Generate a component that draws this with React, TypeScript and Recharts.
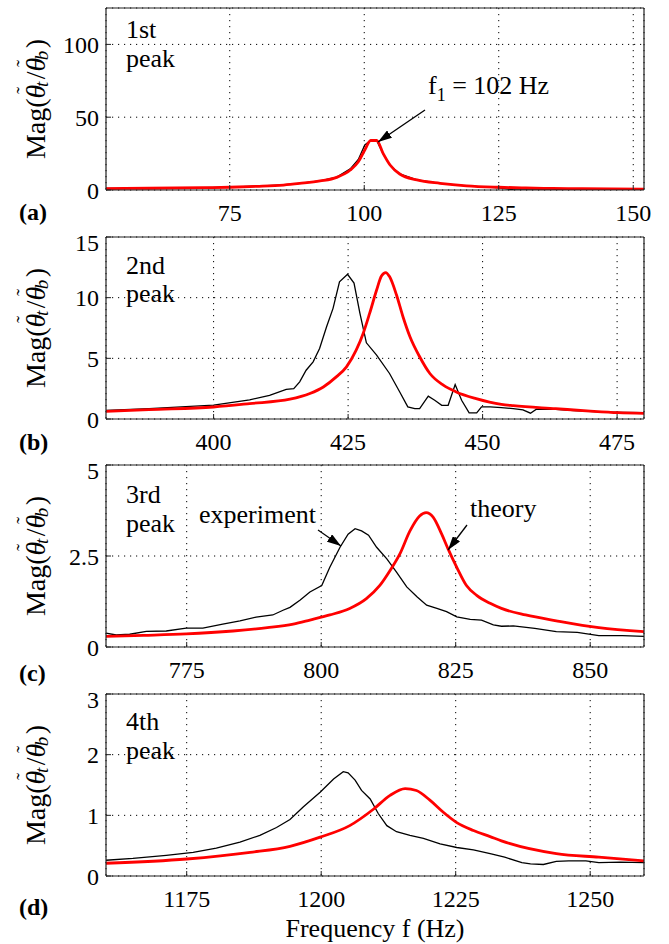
import { LineChart, Line, XAxis, YAxis, CartesianGrid } from 'recharts'

// panel (a) ~ 1st peak
const aExpFreq = [52, 60, 70, 75, 80, 85, 88, 91.8, 94.9, 97.4, 98.9, 100.1, 101.2, 102.3, 103.5, 104.8, 106.6, 109.8, 114.1, 119, 125, 127.7, 130, 134.9, 137, 140, 146, 152]
const aExpMag = [1.1, 1.3, 1.7, 2.0, 2.6, 3.5, 4.6, 6.3, 8.9, 14.5, 21, 31, 34, 34, 25, 17, 11, 6.9, 4.6, 2.8, 1.5, 0.2, 0, 0, 0.5, 0.6, 0.6, 0.5]
const aThyFreq = [52, 60, 70, 75, 80, 85, 88, 91.8, 94.9, 97.4, 98.9, 100.1, 101.2, 102.3, 103.5, 104.8, 106.6, 109.8, 114.1, 119, 125, 130, 135, 140, 146, 152]
const aThyMag = [1.0, 1.2, 1.6, 1.9, 2.5, 3.4, 4.5, 6.2, 8.7, 13.7, 19.4, 27.5, 34, 34, 25.2, 17.2, 11, 6.9, 4.6, 2.9, 1.9, 1.4, 1.1, 0.9, 0.7, 0.6]

// panel (b) ~ 2nd peak
const bExpFreq = [380, 388, 400, 406.7, 410.4, 413.5, 414.9, 416.0, 417.2, 418.5, 419.7, 421.0, 422.2, 423.4, 424.9, 426.1, 427.2, 428.4, 430.3, 432.7, 434.6, 436.1, 437.4, 438.3, 439.9, 441.1, 442.4, 443.6, 444.9, 446.1, 447.5, 448.9, 449.8, 451.4, 453.5, 455.7, 457.5, 458.9, 460, 463.6, 467, 471.6, 476, 480]
const bExpMag = [0.7, 0.86, 1.15, 1.58, 1.95, 2.45, 2.5, 3.06, 4.02, 4.71, 5.81, 7.6, 9.12, 11.3, 11.93, 11.2, 8.7, 6.28, 5.26, 3.75, 2.23, 1.0, 0.86, 0.86, 1.88, 1.54, 1.13, 1.13, 2.84, 1.54, 0.5, 0.5, 1.0, 1.0, 0.94, 0.85, 0.75, 0.48, 0.81, 0.8, 0.7, 0.58, 0.55, 0.52]
const bThyFreq = [380, 388, 400, 406.7, 414.2, 417.9, 420.4, 422.8, 424.7, 426.5, 427.8, 429.0, 430.3, 431.2, 432.0, 432.7, 434.0, 435.2, 436.5, 438.3, 440.2, 442.7, 445.1, 448.8, 453.5, 455.7, 463.6, 470, 475.2, 480]
const bThyMag = [0.63, 0.78, 0.99, 1.27, 1.63, 2.1, 2.64, 3.47, 4.3, 5.67, 7.05, 8.7, 10.63, 11.79, 12.07, 11.74, 10.22, 8.43, 6.78, 5.13, 3.75, 2.79, 2.23, 1.68, 1.21, 1.1, 0.85, 0.65, 0.52, 0.47]

// panel (c) ~ 3rd peak
const cExpFreq = [760, 761.9, 764.4, 767.5, 771.2, 774.9, 778, 781.7, 784.9, 787.9, 791, 792.9, 794.2, 796.1, 797.9, 800.1, 801.6, 803.5, 805, 806.3, 807.5, 808.8, 810.3, 812.2, 814, 815.9, 817.8, 819.6, 821.5, 823.3, 825.2, 827.7, 829.8, 832, 833.5, 835.7, 839.7, 843.7, 847.6, 851.6, 856, 860]
const cExpMag = [0.38, 0.33, 0.35, 0.43, 0.44, 0.52, 0.52, 0.63, 0.72, 0.82, 0.88, 1.01, 1.09, 1.29, 1.51, 1.69, 2.19, 2.74, 3.1, 3.25, 3.19, 3.07, 2.74, 2.42, 2.06, 1.65, 1.38, 1.15, 1.06, 0.97, 0.83, 0.76, 0.74, 0.61, 0.57, 0.58, 0.51, 0.42, 0.4, 0.31, 0.31, 0.29]
const cThyFreq = [760, 767, 774.9, 783.6, 790, 794.8, 797.9, 801.6, 805.3, 808.4, 810.9, 812.8, 814.6, 816.5, 818.3, 819.5, 820.8, 822.4, 823.6, 825.2, 827.0, 828.9, 831.4, 833.5, 838, 843.7, 851.6, 860]
const cThyMag = [0.29, 0.32, 0.36, 0.44, 0.53, 0.63, 0.74, 0.88, 1.06, 1.33, 1.69, 2.1, 2.55, 3.19, 3.6, 3.69, 3.57, 3.1, 2.69, 2.19, 1.69, 1.42, 1.2, 1.06, 0.88, 0.72, 0.53, 0.42]

// panel (d) ~ 4th peak
const dExpFreq = [1160, 1165, 1171.2, 1176.2, 1180.5, 1184.9, 1188.6, 1191.7, 1194.2, 1196.7, 1199.8, 1202.3, 1204.1, 1205, 1206.3, 1207.5, 1209.1, 1210.6, 1212.2, 1214, 1216.5, 1219, 1222.1, 1225.2, 1228.3, 1231.4, 1234.1, 1237.3, 1238.9, 1241.3, 1243.7, 1246, 1249.2, 1251.6, 1255.6, 1260]
const dExpMag = [0.26, 0.29, 0.34, 0.39, 0.46, 0.56, 0.67, 0.8, 0.93, 1.14, 1.38, 1.6, 1.72, 1.7, 1.58, 1.41, 1.27, 1.03, 0.83, 0.73, 0.67, 0.62, 0.53, 0.47, 0.43, 0.37, 0.31, 0.22, 0.2, 0.19, 0.24, 0.25, 0.25, 0.22, 0.23, 0.22]
const dThyFreq = [1160, 1175, 1186.8, 1194.2, 1199.8, 1205.3, 1209.7, 1212.8, 1215.6, 1217.7, 1220.2, 1222.7, 1225.2, 1228.3, 1231.4, 1233.5, 1243.7, 1251.6, 1260]
const dThyMag = [0.21, 0.28, 0.39, 0.49, 0.64, 0.83, 1.1, 1.33, 1.44, 1.41, 1.25, 1.05, 0.88, 0.75, 0.65, 0.58, 0.37, 0.31, 0.25]

// axis ticks
const aXTicks = [75, 100, 125, 150]
const aYTicks = [0, 50, 100]
const bXTicks = [400, 425, 450, 475]
const bYTicks = [0, 5, 10, 15]
const cXTicks = [775, 800, 825, 850]
const cYTicks = [0, 2.5, 5]
const dXTicks = [1175, 1200, 1225, 1250]
const dYTicks = [0, 1, 2, 3]

const zip = (f: number[], m: number[]) => f.map((v, i) => ({ f: v, m: m[i] }))

const FONT = "'Liberation Serif', 'Times New Roman', serif"
const PLOT_H = 182

type VB = { x: number; y: number; width: number; height: number }

// theta with a tilde on top, then a subscript
const ThetaSub = ({ sub }: { sub: string }) => (
  <>
    <tspan fontStyle="italic">θ</tspan>
    <tspan fontSize={20} dx={-9} dy={-11}>˜</tspan>
    <tspan fontStyle="italic" fontSize={19} dx={0} dy={17}>{sub}</tspan>
    <tspan dy={-6}>{'\u200a'}</tspan>
  </>
)

const MagLabel = ({ viewBox }: { viewBox?: VB }) => {
  if (!viewBox) return null
  const cx = viewBox.x + 35
  const cy = viewBox.y + viewBox.height / 2
  return (
    <text
      x={cx}
      y={cy}
      transform={`rotate(-90, ${cx}, ${cy})`}
      textAnchor="middle"
      dominantBaseline="central"
      fontSize={28}
      fill="#000"
    >
      <tspan>Mag(</tspan>
      <ThetaSub sub="t" />
      <tspan>/</tspan>
      <ThetaSub sub="b" />
      <tspan>)</tspan>
    </text>
  )
}

const FreqLabel = ({ viewBox }: { viewBox?: VB }) => {
  if (!viewBox) return null
  return (
    <text x={viewBox.x + viewBox.width / 2} y={viewBox.y + 61} textAnchor="middle" fontSize={26} fill="#000">
      Frequency f (Hz)
    </text>
  )
}

interface PanelProps {
  top: number
  xDomain: [number, number]
  xTicks: number[]
  yDomain: [number, number]
  yTicks: number[]
  exp: { f: number; m: number }[]
  thy: { f: number; m: number }[]
  last?: boolean
}

function Panel({ top, xDomain, xTicks, yDomain, yTicks, exp, thy, last }: PanelProps) {
  const bottomH = last ? 68 : 39
  const border = { stroke: '#222', strokeWidth: 1.2 }
  return (
    <div style={{ position: 'absolute', left: 0, top: top - 8 }}>
      <LineChart width={669} height={8 + PLOT_H + bottomH} margin={{ top: 0, right: 0, bottom: 0, left: 0 }}>
        <CartesianGrid stroke="#000" strokeWidth={1} strokeDasharray="1.2 4.8" />
        <XAxis
          dataKey="f"
          type="number"
          domain={xDomain}
          ticks={xTicks}
          allowDataOverflow
          height={bottomH}
          tickSize={-5}
          tickMargin={19}
          axisLine={border}
          tickLine={{ stroke: '#222' }}
          tick={{ fill: '#000', fontSize: 24 }}
          label={last ? <FreqLabel /> : undefined}
        />
        <XAxis
          xAxisId="top"
          orientation="top"
          type="number"
          domain={xDomain}
          ticks={xTicks}
          allowDataOverflow
          height={8}
          tickSize={-5}
          tick={false}
          axisLine={border}
          tickLine={{ stroke: '#222' }}
        />
        <YAxis
          type="number"
          domain={yDomain}
          ticks={yTicks}
          allowDataOverflow
          width={106}
          tickSize={-5}
          tickMargin={12}
          axisLine={border}
          tickLine={{ stroke: '#222' }}
          tick={{ fill: '#000', fontSize: 24 }}
          label={<MagLabel />}
        />
        <YAxis
          yAxisId="right"
          orientation="right"
          type="number"
          domain={yDomain}
          ticks={yTicks}
          allowDataOverflow
          width={25}
          tickSize={-5}
          tick={false}
          axisLine={border}
          tickLine={{ stroke: '#222' }}
        />
        <Line data={exp} dataKey="m" type="linear" stroke="#000" strokeWidth={1.3} dot={false} isAnimationActive={false} />
        <Line data={thy} dataKey="m" type="monotone" stroke="#ff0000" strokeWidth={2.8} dot={false} isAnimationActive={false} />
      </LineChart>
    </div>
  )
}

export default function App() {
  return (
    <div style={{ position: 'absolute', left: 0, top: 0, width: 669, height: 944, background: '#fff', fontFamily: FONT }}>
      <style>{`svg text, svg tspan { font-family: 'Liberation Serif', 'Times New Roman', serif; }`}</style>
      <Panel top={8} xDomain={[52, 152]} xTicks={aXTicks} yDomain={[0, 125]} yTicks={aYTicks} exp={zip(aExpFreq, aExpMag)} thy={zip(aThyFreq, aThyMag)} />
      <Panel top={237} xDomain={[380, 480]} xTicks={bXTicks} yDomain={[0, 15]} yTicks={bYTicks} exp={zip(bExpFreq, bExpMag)} thy={zip(bThyFreq, bThyMag)} />
      <Panel top={465} xDomain={[760, 860]} xTicks={cXTicks} yDomain={[0, 5]} yTicks={cYTicks} exp={zip(cExpFreq, cExpMag)} thy={zip(cThyFreq, cThyMag)} />
      <Panel top={694} xDomain={[1160, 1260]} xTicks={dXTicks} yDomain={[0, 3]} yTicks={dYTicks} exp={zip(dExpFreq, dExpMag)} thy={zip(dThyFreq, dThyMag)} last />

      {/* annotations */}
      <svg width={669} height={944} style={{ position: 'absolute', left: 0, top: 0, pointerEvents: 'none' }}>
        <defs>
          <marker id="arrowHead" viewBox="0 0 14 9" refX="14" refY="4.5" markerWidth="14" markerHeight="9" markerUnits="userSpaceOnUse" orient="auto">
            <path d="M0,0 L14,4.5 L0,9 Z" fill="#000" />
          </marker>
        </defs>
        <g fontSize={26} fill="#000">
          <text x={126} y={38}>1st</text>
          <text x={126} y={67}>peak</text>
          <text x={126} y={274}>2nd</text>
          <text x={126} y={302}>peak</text>
          <text x={126} y={503}>3rd</text>
          <text x={126} y={532}>peak</text>
          <text x={126} y={730}>4th</text>
          <text x={126} y={759}>peak</text>
          <text x={428} y={94}>
            f<tspan fontSize={18} dy={7}>1</tspan>
            <tspan dy={-7}> = 102 Hz</tspan>
          </text>
          <text x={199} y={523}>experiment</text>
          <text x={470} y={517}>theory</text>
        </g>
        <g fontSize={24} fontWeight="bold" fill="#000">
          <text x={19} y={212} dominantBaseline="central">(a)</text>
          <text x={19} y={442} dominantBaseline="central">(b)</text>
          <text x={19} y={673} dominantBaseline="central">(c)</text>
          <text x={19} y={907} dominantBaseline="central">(d)</text>
        </g>
        <g stroke="#000" strokeWidth={1.3} markerEnd="url(#arrowHead)">
          <line x1={425} y1={110} x2={378} y2={142} />
          <line x1={318} y1={530} x2={341} y2={546} />
          <line x1={467} y1={525} x2={448} y2={550} />
        </g>
      </svg>
    </div>
  )
}
